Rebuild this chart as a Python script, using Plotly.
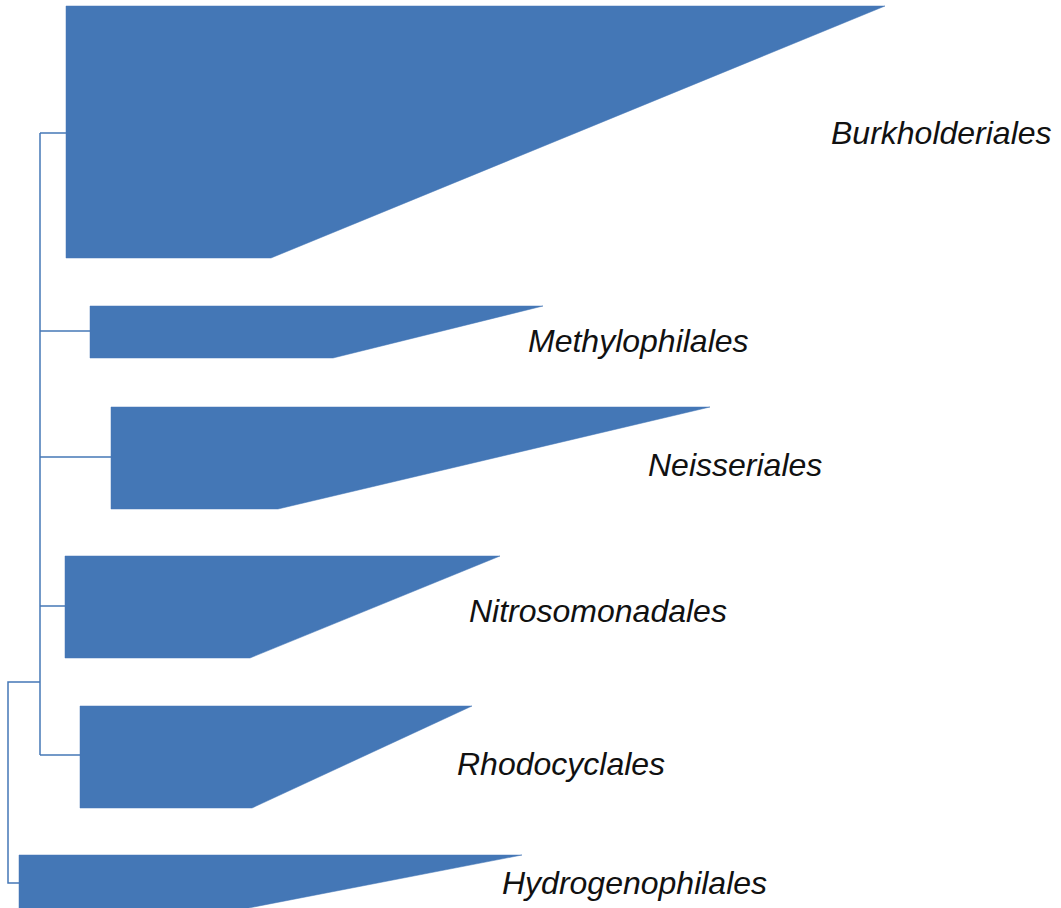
import plotly.graph_objects as go

# Collapsed clades (order Betaproteobacteria tree)
clades = ["Burkholderiales", "Methylophilales", "Neisseriales",
          "Nitrosomonadales", "Rhodocyclales", "Hydrogenophilales"]
node_x = [66, 90, 111, 65, 80, 19]          # left edge (node depth)
top_y = [6, 306, 407, 556, 706, 855]
bottom_y = [258, 358, 509, 658, 808, 912]
tip_x = [885, 543, 710, 500, 472, 522]       # deepest tip (upper right)
shallow_x = [271, 333, 278, 250, 252, 228]   # shallowest tip (lower right)
label_x = [829, 526, 646, 467, 455, 500]
label_y = [133, 341, 465, 611, 764, 883]

# Internal nodes
inner_x = 40
root_x = 8
root_y = 682
branch_y = [133, 331, 457, 606, 755, 883]

color = "#4477B6"
fig = go.Figure()

for i, name in enumerate(clades):
    xs = [node_x[i], tip_x[i], shallow_x[i], node_x[i], node_x[i]]
    ys = [top_y[i], top_y[i], bottom_y[i], bottom_y[i], top_y[i]]
    fig.add_trace(go.Scatter(x=xs, y=ys, fill="toself", fillcolor=color,
                             mode="lines", line=dict(color=color, width=0.5),
                             hoverinfo="text", text=name, showlegend=False))

# branches of inner clade
for i in range(5):
    fig.add_trace(go.Scatter(x=[inner_x, node_x[i]], y=[branch_y[i], branch_y[i]],
                             mode="lines", line=dict(color=color, width=1.5),
                             hoverinfo="skip", showlegend=False))
fig.add_trace(go.Scatter(x=[inner_x, inner_x], y=[branch_y[0], branch_y[4]],
                         mode="lines", line=dict(color=color, width=1.5),
                         hoverinfo="skip", showlegend=False))
# root
fig.add_trace(go.Scatter(x=[inner_x, root_x, root_x, node_x[5]],
                         y=[root_y, root_y, branch_y[5], branch_y[5]],
                         mode="lines", line=dict(color=color, width=1.5),
                         hoverinfo="skip", showlegend=False))

for i, name in enumerate(clades):
    fig.add_annotation(x=label_x[i], y=label_y[i], text="<i>%s</i>" % name,
                       showarrow=False, xanchor="left", yanchor="middle",
                       font=dict(family="Liberation Sans, Arial, sans-serif",
                                 size=32, color="#111111"))

fig.update_layout(
    width=1061, height=908,
    margin=dict(l=0, r=0, t=0, b=0),
    paper_bgcolor="white", plot_bgcolor="white",
    xaxis=dict(range=[0, 1061], visible=False, fixedrange=True),
    yaxis=dict(range=[908, 0], visible=False, fixedrange=True),
)
fig.write_html("out.html")
